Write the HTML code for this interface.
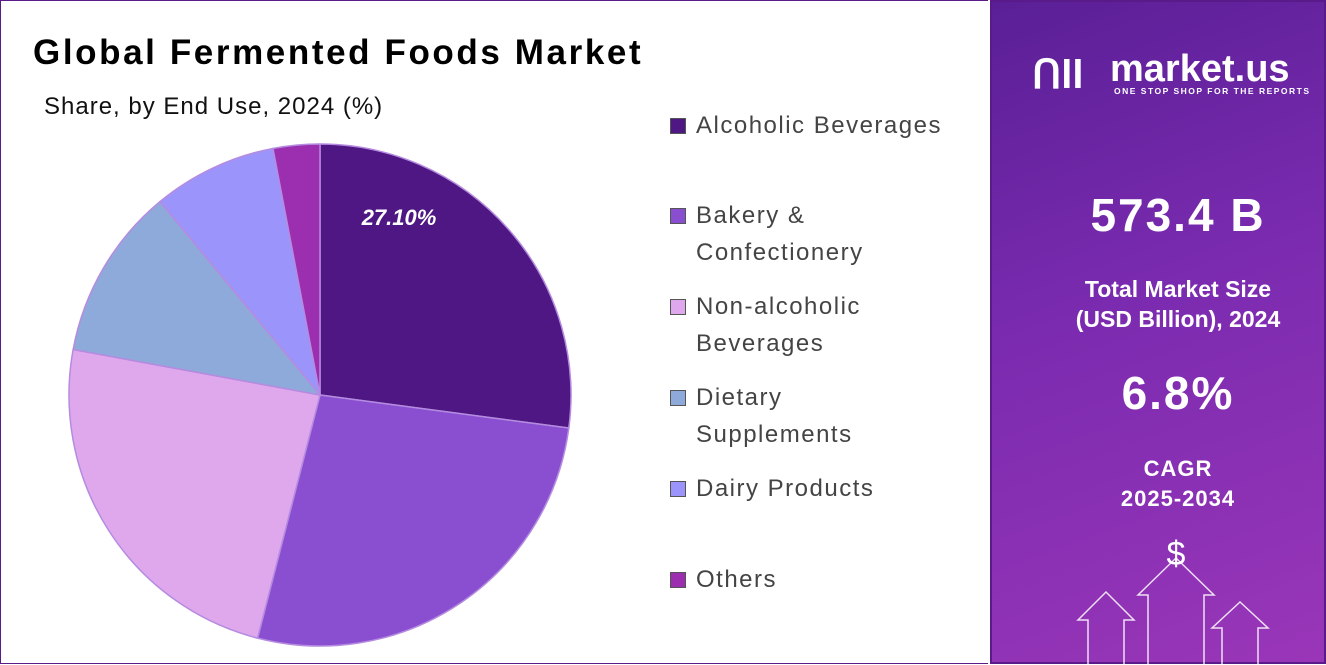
<!DOCTYPE html>
<html><head><meta charset="utf-8"><style>
body{margin:0;width:1326px;height:664px;overflow:hidden;font-family:"Liberation Sans",sans-serif;background:#fff}
#left{position:absolute;left:0;top:0;width:988px;height:664px;border:1px solid #5a1b8a;border-right:none;box-sizing:border-box}
#right{position:absolute;left:990px;top:0;width:336px;height:664px;background:linear-gradient(160deg,#5a1f96 0%,#7b2bb0 45%,#9a36b8 100%);border:2px solid #5a1b8a;box-sizing:border-box;color:#fff;text-align:center}
.t{position:absolute;font-weight:bold}
.leg{position:absolute;font-size:24px;color:#444;line-height:37px;letter-spacing:1.5px}
.sw{position:absolute;left:669px;width:16px;height:16px;border:1px solid #555;box-sizing:border-box}
</style></head><body>
<div id="left">
<div class="t" style="left:32px;top:32px;font-size:35px;color:#000;letter-spacing:2.6px">Global Fermented Foods Market</div>
<div style="position:absolute;left:43px;top:92px;font-size:24px;color:#111;letter-spacing:1px">Share, by End Use, 2024 (%)</div>
<svg id="pie" width="660" height="664" style="position:absolute;left:0;top:0"></svg>
<div id="legend"></div>
</div>
<div id="right">
<div style="position:absolute;left:40px;top:50px;font-size:40px;font-weight:bold">ᑎll</div>
<div style="position:absolute;left:118px;top:46px;font-size:38px;font-weight:bold">market.us</div>
<div style="position:absolute;left:122px;top:84px;font-size:8.5px;font-weight:bold;letter-spacing:1.5px">ONE STOP SHOP FOR THE REPORTS</div>
<div class="t" style="left:0;width:372px;top:186px;font-size:46px;letter-spacing:2px">573.4 B</div>
<div class="t" style="left:0;width:372px;top:272px;font-size:23px;line-height:30px">Total Market Size<br>(USD Billion), 2024</div>
<div class="t" style="left:0;width:372px;top:364px;font-size:46px;letter-spacing:2px">6.8%</div>
<div class="t" style="left:0;width:372px;top:452px;font-size:22px;line-height:30px;letter-spacing:1px">CAGR<br>2025-2034</div>
<svg width="336" height="664" style="position:absolute;left:-2px;top:-2px">
<text x="186" y="565" fill="#fff" font-size="34" text-anchor="middle" font-family="Liberation Sans">$</text>
<g fill="none" stroke="#fff" stroke-width="1.5" opacity="0.85">
<path d="M158 664 V595 H148 L186 558 L224 595 H214 V664"/>
<path d="M98 664 V620 H88 L116 592 L144 620 H134 V664"/>
<path d="M232 664 V628 H222 L250 602 L278 628 H268 V664"/>
</g></svg>
</div>
<script>
const categories=["Alcoholic Beverages","Bakery & Confectionery","Non-alcoholic Beverages","Dietary Supplements","Dairy Products","Others"];
const shares=[27.1,26.9,23.9,11.1,8.0,3.0];
const colors=["#4f1783","#8a4fd0","#e0a8ec","#8eaadb","#9b95fb","#9b2fb0"];
const legendLines=[["Alcoholic Beverages"],["Bakery &","Confectionery"],["Non-alcoholic","Beverages"],["Dietary","Supplements"],["Dairy Products"],["Others"]];
const legendTops=[106,196,287,378,469,560];
const svg=document.getElementById('pie');const NS="http://www.w3.org/2000/svg";
const cx=319,cy=394,r=251;const total=shares.reduce((a,b)=>a+b,0);
function pt(a){return [cx+r*Math.sin(a),cy-r*Math.cos(a)];}
let a0=0;
shares.forEach((v,i)=>{const a1=a0+v/total*2*Math.PI;const p0=pt(a0),p1=pt(a1);
const p=document.createElementNS(NS,'path');
p.setAttribute('d',`M${cx} ${cy} L${p0[0]} ${p0[1]} A${r} ${r} 0 ${a1-a0>Math.PI?1:0} 1 ${p1[0]} ${p1[1]} Z`);
p.setAttribute('fill',colors[i]);p.setAttribute('stroke','#b58be0');p.setAttribute('stroke-width','1.5');


svg.appendChild(p);a0=a1;});
const lbl=document.createElementNS(NS,'text');
lbl.setAttribute('x',398);lbl.setAttribute('y',224);lbl.setAttribute('fill','#fff');lbl.setAttribute('font-size','22');lbl.setAttribute('font-weight','bold');lbl.setAttribute('font-style','italic');lbl.setAttribute('text-anchor','middle');lbl.setAttribute('font-family','Liberation Sans');
lbl.textContent=shares[0].toFixed(2)+'%';


svg.appendChild(lbl);
const lg=document.getElementById('legend');
categories.forEach((c,i)=>{const s=document.createElement('div');s.className='sw';s.style.top=(legendTops[i]+11)+'px';s.style.background=colors[i];


lg.appendChild(s);
const t=document.createElement('div');t.className='leg';t.style.left='695px';t.style.top=legendTops[i]+'px';t.innerHTML=legendLines[i].join('<br>');


lg.appendChild(t);});
</script>
</body></html>
